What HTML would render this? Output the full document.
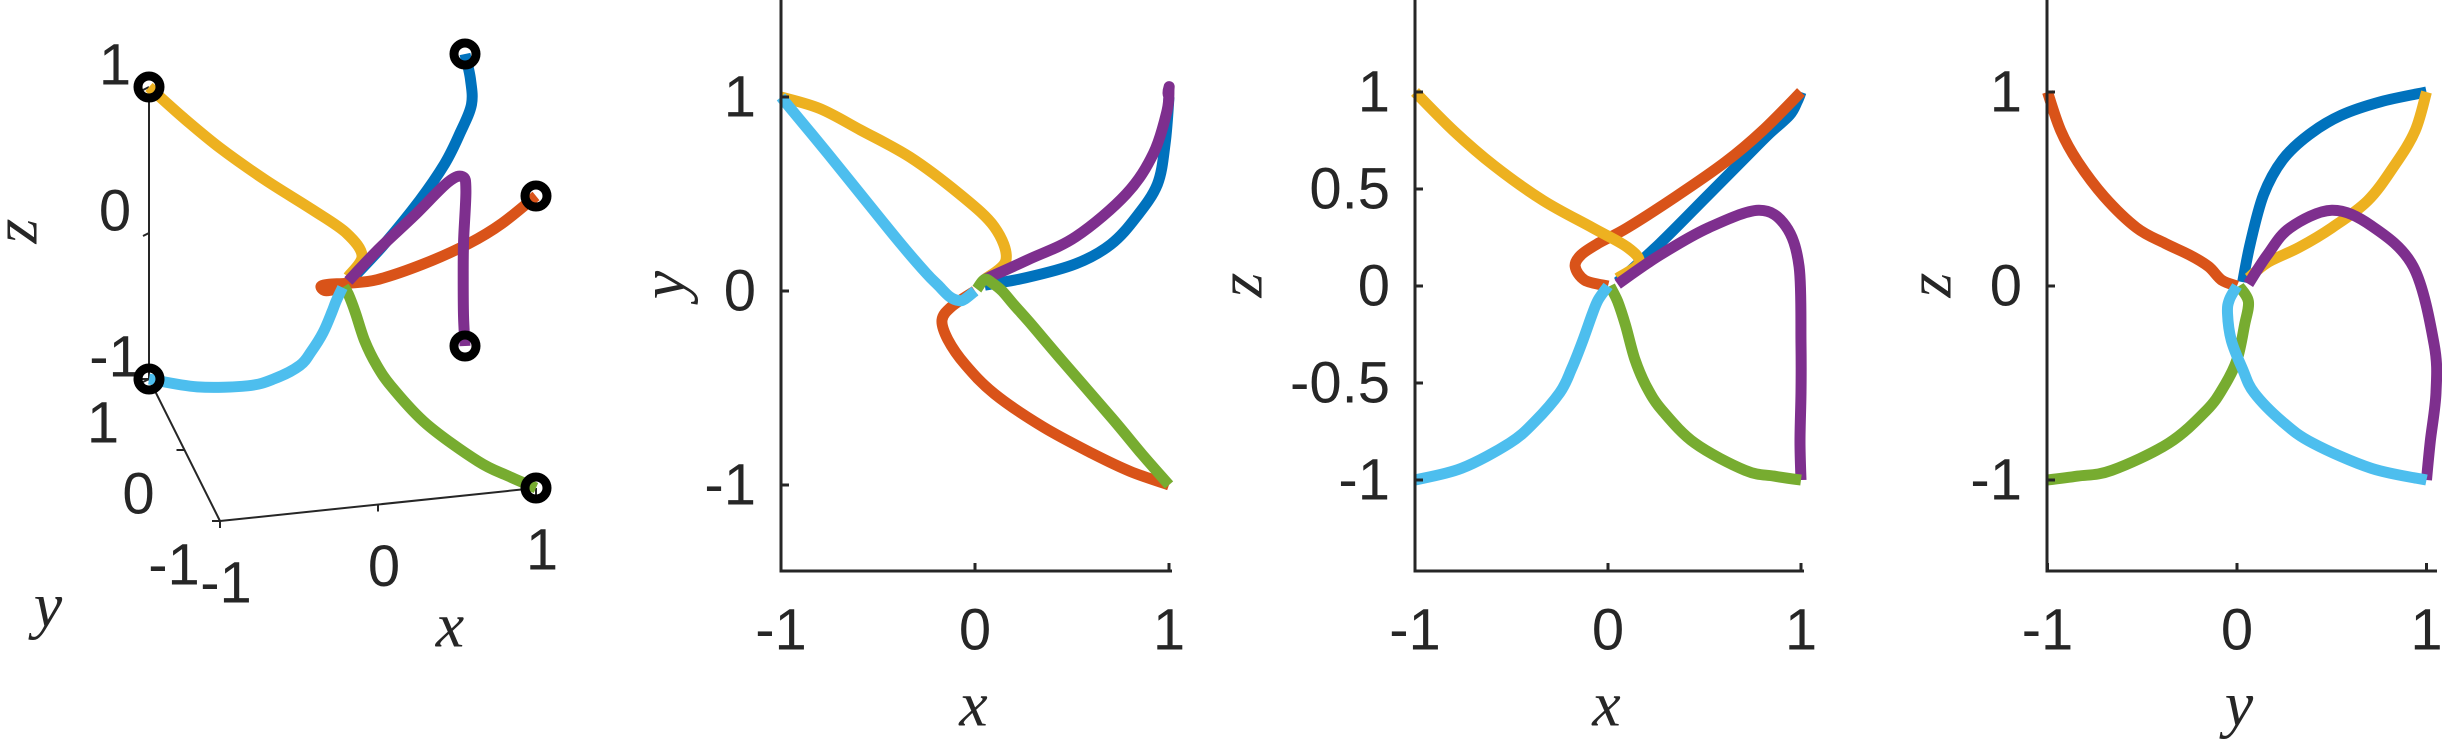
<!DOCTYPE html>
<html><head><meta charset="utf-8"><style>
html,body{margin:0;padding:0;background:#fff;}
svg{display:block;}
.tk{font-family:"Liberation Sans",sans-serif;font-size:58px;fill:#262626;}
.al{font-family:"Liberation Serif",serif;font-style:italic;font-size:64px;fill:#262626;}
</style></head><body>
<svg id="fig" width="2442" height="739" viewBox="0 0 2442 739" xmlns="http://www.w3.org/2000/svg"></svg>
<script>
// series data: 3D trajectories (x, y, z)
const seriesNames = ["blue","orange","yellow","purple","green","lightblue"];
const seriesColors = ["#0072BD","#D95319","#EDB120","#7E2F8E","#77AC30","#4DBEEE"];
const blueX = [0.05,0.27,0.52,0.70,0.83,0.94,0.98,1];
const blueY = [0.03,0.07,0.14,0.24,0.38,0.55,0.76,1];
const blueZ = [0.02,0.22,0.47,0.65,0.78,0.88,0.95,1];
const orangeX = [0,-0.12,-0.17,-0.14,-0.05,0.10,0.35,0.61,0.80,1];
const orangeY = [0,-0.08,-0.15,-0.25,-0.38,-0.53,-0.70,-0.84,-0.93,-1];
const orangeZ = [0,0.03,0.10,0.16,0.22,0.30,0.46,0.64,0.80,1];
const yellowX = [0.05,0.16,0.10,-0.08,-0.335,-0.59,-0.80,-1];
const yellowY = [0.06,0.16,0.33,0.50,0.69,0.83,0.94,1];
const yellowZ = [0.04,0.12,0.20,0.30,0.44,0.62,0.80,1];
const purpleX = [0.05,0.27,0.52,0.78,0.92,0.99,1.0,1.0,0.995,1];
const purpleY = [0.06,0.16,0.28,0.50,0.71,0.93,1.04,1.05,1.02,1];
const purpleZ = [0.01,0.16,0.30,0.39,0.31,0.10,-0.30,-0.55,-0.80,-1];
const greenX = [0.01,0.05,0.09,0.14,0.20,0.28,0.45,0.71,0.86,1];
const greenY = [0.01,0.06,0.04,0.00,-0.07,-0.16,-0.36,-0.66,-0.84,-1];
const greenZ = [0,-0.08,-0.20,-0.38,-0.52,-0.64,-0.81,-0.95,-0.98,-1];
const lightblueX = [0,-0.05,-0.08,-0.13,-0.19,-0.25,-0.38,-0.51,-0.76,-1];
const lightblueY = [0,-0.04,-0.05,-0.03,0.03,0.09,0.24,0.40,0.71,1];
const lightblueZ = [0,-0.07,-0.14,-0.28,-0.43,-0.55,-0.70,-0.81,-0.94,-1];
const ticksXY = [-1,0,1];
const ticksZ3 = [-1,-0.5,0,0.5,1];
const tickLabels = ["-1","0","1"];
const tickLabelsZ3 = ["-1","-0.5","0","0.5","1"];

const S = {
  blue:[blueX,blueY,blueZ], orange:[orangeX,orangeY,orangeZ], yellow:[yellowX,yellowY,yellowZ],
  purple:[purpleX,purpleY,purpleZ], green:[greenX,greenY,greenZ], lightblue:[lightblueX,lightblueY,lightblueZ]
};
const NS="http://www.w3.org/2000/svg";
const svg=document.getElementById('fig');
function el(tag,attrs,parent){const e=document.createElementNS(NS,tag);for(const k in attrs)e.setAttribute(k,attrs[k]);(parent||svg).appendChild(e);return e;}
function txt(str,x,y,cls,parent,extra){const t=el('text',Object.assign({x:x,y:y,class:cls,'text-anchor':'middle','dominant-baseline':'central'},extra||{}),parent);t.textContent=str;return t;}
function smooth(pts){
  let d="M"+pts[0][0].toFixed(1)+","+pts[0][1].toFixed(1);
  for(let i=0;i<pts.length-1;i++){
    const p0=pts[Math.max(0,i-1)],p1=pts[i],p2=pts[i+1],p3=pts[Math.min(pts.length-1,i+2)];
    const c1=[p1[0]+(p2[0]-p0[0])/6,p1[1]+(p2[1]-p0[1])/6];
    const c2=[p2[0]-(p3[0]-p1[0])/6,p2[1]-(p3[1]-p1[1])/6];
    d+=" C"+c1[0].toFixed(1)+","+c1[1].toFixed(1)+" "+c2[0].toFixed(1)+","+c2[1].toFixed(1)+" "+p2[0].toFixed(1)+","+p2[1].toFixed(1);
  }
  return d;
}

// ---------- 3D panel ----------
const g3=el('g',{});


const C=[342.5,287.5], EX=[158,-16.5], EY=[-35.5,-71], EZ=[0,-146];
function P3(x,y,z){return [C[0]+x*EX[0]+y*EY[0]+z*EZ[0], C[1]+x*EX[1]+y*EY[1]+z*EZ[1]];}
const axisStyle={stroke:'#262626','stroke-width':2,fill:'none'};
const za=el('path',Object.assign({d:'M'+P3(-1,1,-1)+' L'+P3(-1,1,1)},axisStyle),g3);


const ya=el('path',Object.assign({d:'M'+P3(-1,1,-1)+' L'+P3(-1,-1,-1)},axisStyle),g3);


const xa=el('path',Object.assign({d:'M'+P3(-1,-1,-1)+' L'+P3(1,-1,-1)},axisStyle),g3);


ticksXY.forEach(v=>{
  const a=P3(-1,1,v); el('path',Object.assign({d:'M'+a+' L'+[a[0]-6,a[1]+3]},axisStyle),g3);
  const b=P3(-1,v,-1); el('path',Object.assign({d:'M'+b+' L'+[b[0]-8,b[1]]},axisStyle),g3);
  const c=P3(v,-1,-1); el('path',Object.assign({d:'M'+c+' L'+[c[0],c[1]+7]},axisStyle),g3);
});
[[1,"1"],[0,"0"],[-1,"-1"]].forEach(p=>{const q=P3(-1,1,p[0]);const t=txt(p[1],q[0]-34,q[1]-22,'tk',g3);

});
[[1,"1"],[0,"0"],[-1,"-1"]].forEach(p=>{const q=P3(-1,p[0],-1);const t=txt(p[1],q[0]-46,q[1]+44,'tk',g3);

});
[[-1,"-1"],[0,"0"],[1,"1"]].forEach(p=>{const q=P3(p[0],-1,-1);const t=txt(p[1],q[0]+6,q[1]+62,'tk',g3);

});
const zt=txt('z',15,231,'al',g3,{transform:'rotate(-90 15 231)'});


const yt=txt('y',48,605,'al',g3);


const xt=txt('x',450,625,'al',g3);


seriesNames.forEach((n,i)=>{
  const [X,Y,Z]=S[n];
  const pts=X.map((_,k)=>P3(X[k],Y[k],Z[k]));
  const p=el('path',{d:smooth(pts),stroke:seriesColors[i],'stroke-width':11,fill:'none','stroke-linejoin':'round'},g3);
  
  
});
seriesNames.forEach((n,i)=>{
  const [X,Y,Z]=S[n];const k=X.length-1;const q=P3(X[k],Y[k],Z[k]);
  const m=el('circle',{cx:q[0],cy:q[1],r:11,stroke:'#000','stroke-width':9,fill:'none'},g3);
  
  
});

// ---------- 2D panels ----------
const panels=[
  {name:'panel-xy',left:781,x0:975,ux:194,y0:291,uy:194,right:1172,a:0,b:1,xl:'x',yl:'y',ylx:663,yt:ticksXY,ytl:tickLabels},
  {name:'panel-xz',left:1415,x0:1608,ux:193,y0:286,uy:194,right:1804,a:0,b:2,xl:'x',yl:'z',ylx:1240,yt:ticksZ3,ytl:tickLabelsZ3},
  {name:'panel-yz',left:2047,x0:2237,ux:189.5,y0:286,uy:194,right:2437,a:1,b:2,xl:'y',yl:'z',ylx:1929,yt:ticksXY,ytl:tickLabels}
];
const bottom=571;
panels.forEach(pn=>{
  const g=el('g',{});
  
  
  const sx=v=>pn.x0+v*pn.ux, sy=v=>pn.y0-v*pn.uy;
  seriesNames.forEach((n,i)=>{
    const D=S[n];
    const pts=D[0].map((_,k)=>[sx(D[pn.a][k]),sy(D[pn.b][k])]);
    const p=el('path',{d:smooth(pts),stroke:seriesColors[i],'stroke-width':11,fill:'none','stroke-linejoin':'round'},g);
    
    
  });
  const ax=el('path',{d:`M${pn.left},0 L${pn.left},${bottom} L${pn.right},${bottom}`,stroke:'#262626','stroke-width':3,fill:'none'},g);
  
  
  ticksXY.forEach((v,i)=>{
    el('path',{d:`M${sx(v)},${bottom} L${sx(v)},${bottom-8}`,stroke:'#262626','stroke-width':3},g);
    const t=txt(tickLabels[i],sx(v),630,'tk',g);
    
    
  });
  pn.yt.forEach((v,i)=>{
    el('path',{d:`M${pn.left},${sy(v)} L${pn.left+8},${sy(v)}`,stroke:'#262626','stroke-width':3},g);
    const t=txt(pn.ytl[i],pn.left-25,sy(v),'tk',g,{'text-anchor':'end'});
    
    
  });
  const xlab=txt(pn.xl,(pn.left+pn.right)/2-3,704,'al',g);
  
  
  const ylab=txt(pn.yl,pn.ylx,285,'al',g,{transform:`rotate(-90 ${pn.ylx} 285)`});
  
  
});
</script>
</body></html>
